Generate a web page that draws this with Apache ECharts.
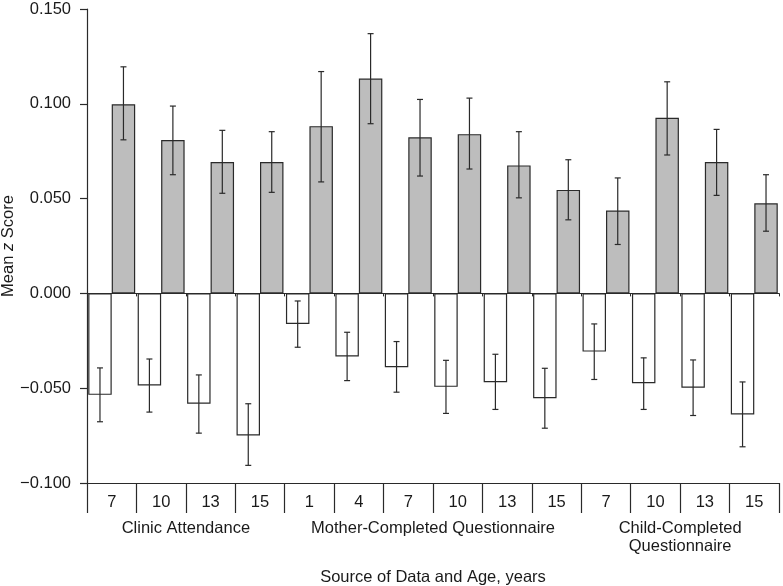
<!DOCTYPE html>
<html>
<head>
<meta charset="utf-8">
<script src="https://cdn.jsdelivr.net/npm/echarts@6/dist/echarts.min.js"></script>
<style>html,body{margin:0;padding:0;background:#fff}#c{width:783px;height:586px}</style>
</head>
<body>
<div id="c"></div>
<script>
// ---- data ----
const ages = ['7','10','13','15','1','4','7','10','13','15','7','10','13','15'];
const groups = ['Clinic Attendance','Mother-Completed Questionnaire','Child-Completed\nQuestionnaire'];
const groupCenters = [2, 7, 12];
const lowValues  = [-0.0535,-0.0486,-0.0582,-0.0749,-0.0161,-0.0333,-0.0389,-0.0493,-0.0468,-0.0553,-0.0307,-0.0474,-0.0498,-0.0639];
const lowErrLo   = [-0.0677,-0.0626,-0.0737,-0.0907,-0.0284,-0.0460,-0.0521,-0.0633,-0.0612,-0.0711,-0.0454,-0.0612,-0.0644,-0.0809];
const lowErrHi   = [-0.0393,-0.0346,-0.0430,-0.0582,-0.0040,-0.0205,-0.0254,-0.0353,-0.0321,-0.0395,-0.0161,-0.0340,-0.0351,-0.0467];
const highValues = [0.0998,0.0809,0.0693,0.0693,0.0882,0.1133,0.0823,0.0840,0.0675,0.0546,0.0437,0.0926,0.0693,0.0475];
const highErrLo  = [0.0810,0.0626,0.0528,0.0533,0.0588,0.0895,0.0619,0.0656,0.0504,0.0388,0.0258,0.0730,0.0517,0.0328];
const highErrHi  = [0.1195,0.0988,0.0860,0.0853,0.1170,0.1370,0.1023,0.1030,0.0853,0.0705,0.0609,0.1116,0.0865,0.0626];

const FONT = 'Liberation Sans, Arial, sans-serif';
const TXT = '#1a1a1a';
const LINE = '#2a2a2a';
const FS = 16.5;
const CAT_GAP = 0.05;

function errSeries(lo, hi, side) {
  return {
    type: 'custom',
    xAxisIndex: 0,
    z: 5,
    data: lo.map((l, i) => [i, l, hi[i]]),
    encode: { x: 0, y: [1, 2] },
    renderItem: function (params, api) {
      const i = api.value(0);
      const catW = api.size([1, 0])[0];
      const barW = catW * (1 - CAT_GAP) / 2;
      const cx = api.coord([i, 0])[0] + side * barW / 2;
      const yLo = api.coord([i, api.value(1)])[1];
      const yHi = api.coord([i, api.value(2)])[1];
      const cap = 3;
      const st = { stroke: LINE, lineWidth: 1.2 };
      return {
        type: 'group',
        children: [
          { type: 'line', shape: { x1: cx, y1: yLo, x2: cx, y2: yHi }, style: st },
          { type: 'line', shape: { x1: cx - cap, y1: yLo, x2: cx + cap, y2: yLo }, style: st },
          { type: 'line', shape: { x1: cx - cap, y1: yHi, x2: cx + cap, y2: yHi }, style: st }
        ]
      };
    }
  };
}

const chart = echarts.init(document.getElementById('c'), null, { renderer: 'canvas' });
chart.setOption({
  animation: false,
  backgroundColor: '#fff',
  textStyle: { fontFamily: FONT },
  grid: { left: 87, right: 4, top: 9, bottom: 103, containLabel: false, outerBoundsMode: 'none' },
  xAxis: [
    {
      type: 'category',
      data: ages,
      position: 'bottom',
      axisLine: { onZero: false, lineStyle: { color: LINE, width: 1.2 } },
      axisTick: { show: true, length: 30, interval: 0, lineStyle: { color: LINE, width: 1.2 } },
      axisLabel: { interval: 0, margin: 11, color: TXT, fontSize: FS, fontFamily: FONT },
      splitLine: { show: false }
    },
    {
      type: 'category',
      data: ages,
      position: 'bottom',
      axisLine: { onZero: true, lineStyle: { color: LINE, width: 1.2 } },
      axisTick: { show: true, length: 3, interval: 0, lineStyle: { color: LINE } },
      axisLabel: { show: false },
      splitLine: { show: false }
    },
    {
      type: 'value',
      min: 0, max: ages.length,
      position: 'bottom',
      axisLine: { show: false, onZero: false },
      axisTick: { show: false },
      splitLine: { show: false },
      axisLabel: {
        customValues: groupCenters,
        margin: 36,
        color: TXT, fontSize: FS, fontFamily: FONT, lineHeight: 18,
        formatter: function (v) {
          const k = groupCenters.indexOf(v);
          return k >= 0 ? groups[k] : '';
        }
      },
      name: 'Source of Data and Age, years',
      nameLocation: 'middle',
      nameGap: 86,
      nameMoveOverlap: false,
      nameTextStyle: { color: TXT, fontSize: FS, fontFamily: FONT }
    }
  ],
  yAxis: {
    type: 'value',
    min: -0.1, max: 0.15, interval: 0.05,
    axisLine: { show: true, lineStyle: { color: LINE, width: 1.2 } },
    axisTick: { show: true, length: 7, lineStyle: { color: LINE, width: 1.2 } },
    splitLine: { show: false },
    axisLabel: {
      margin: 16, color: TXT, fontSize: FS, fontFamily: FONT,
      formatter: function (v) {
        const r = Math.round(v * 1000) / 1000;
        return (r < 0 ? '\u2212' : '') + Math.abs(r).toFixed(3);
      }
    },
    name: '{a|Mean }{i|z}{a| Score}',
    nameLocation: 'middle',
    nameGap: 70,
    nameMoveOverlap: false,
    nameTextStyle: {
      color: TXT, fontSize: FS, fontFamily: FONT,
      rich: {
        a: { color: TXT, fontSize: FS, fontFamily: FONT },
        i: { color: TXT, fontSize: FS, fontFamily: FONT, fontStyle: 'italic' }
      }
    }
  },
  series: [
    {
      type: 'bar',
      xAxisIndex: 0,
      data: lowValues,
      barGap: '0%',
      barCategoryGap: (CAT_GAP * 100) + '%',
      itemStyle: { color: '#ffffff', borderColor: LINE, borderWidth: 1.2 },
      z: 2
    },
    {
      type: 'bar',
      xAxisIndex: 0,
      data: highValues,
      barGap: '0%',
      barCategoryGap: (CAT_GAP * 100) + '%',
      itemStyle: { color: '#bdbdbd', borderColor: LINE, borderWidth: 1.2 },
      z: 2
    },
    errSeries(lowErrLo, lowErrHi, -1),
    errSeries(highErrLo, highErrHi, 1)
  ]
});
</script>
</body>
</html>
